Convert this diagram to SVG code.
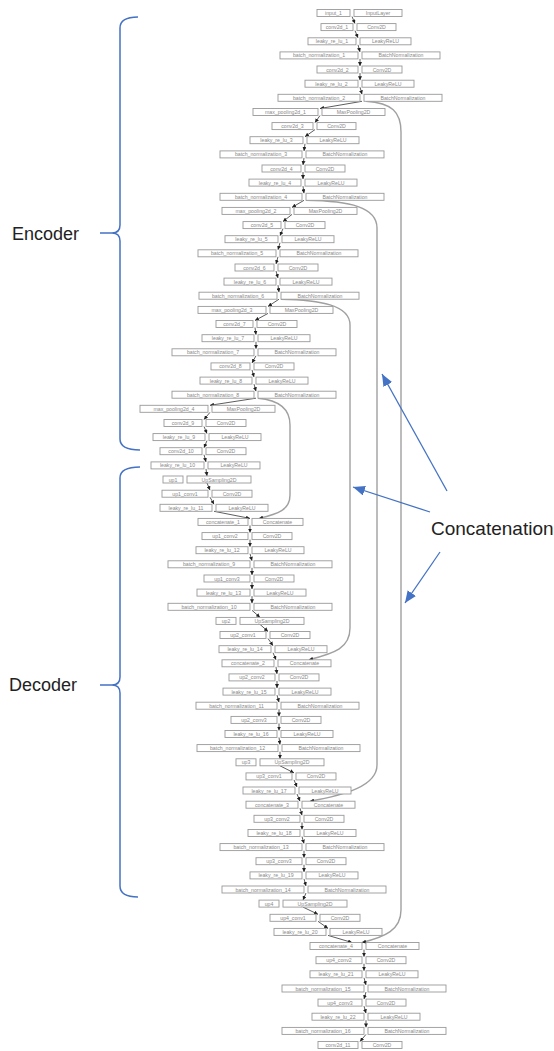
<svg xmlns="http://www.w3.org/2000/svg" width="554" height="1051" viewBox="0 0 554 1051">
<style>
.b{fill:#fff;stroke:#999;stroke-width:0.9}
.t{font-family:"Liberation Sans",Arial,sans-serif;font-size:5.2px;fill:#8a8a8a;text-anchor:middle}
.e{stroke:#333;stroke-width:0.8;fill:none;marker-end:url(#ah)}
.s{stroke:#a0a0a0;stroke-width:1.4;fill:none;marker-end:url(#ah)}
.bl{stroke:#4472C4;stroke-width:1.5;fill:none}
.ba{stroke:#4472C4;stroke-width:1.3;fill:none;marker-end:url(#ba)}
.lab{font-family:"Liberation Sans",Arial,sans-serif;fill:#222}
</style>
<defs>
<marker id="ah" markerWidth="4" markerHeight="4" refX="4" refY="2" orient="auto" markerUnits="userSpaceOnUse"><path d="M0,0L4,2L0,4z" fill="#222"/></marker>
<marker id="ba" markerWidth="12" markerHeight="10" refX="12" refY="5" orient="auto" markerUnits="userSpaceOnUse"><path d="M0,0L12,5L0,10z" fill="#4472C4"/></marker>
</defs>
<rect width="554" height="1051" fill="#fff"/>
<g id="connectors">
<line class="e" x1="352" y1="16.5" x2="355" y2="23.6"/>
<line class="e" x1="355" y1="30.6" x2="358" y2="37.8"/>
<line class="e" x1="358" y1="44.8" x2="360" y2="51.9"/>
<line class="e" x1="360" y1="58.9" x2="360" y2="66"/>
<line class="e" x1="360" y1="73" x2="360" y2="80.2"/>
<line class="e" x1="360" y1="87.2" x2="362" y2="94.3"/>
<line class="e" x1="362" y1="101.3" x2="320" y2="108.5"/>
<line class="e" x1="320" y1="115.5" x2="315" y2="122.6"/>
<line class="e" x1="315" y1="129.6" x2="305" y2="136.7"/>
<line class="e" x1="305" y1="143.7" x2="304" y2="150.9"/>
<line class="e" x1="304" y1="157.9" x2="303" y2="165"/>
<line class="e" x1="303" y1="172" x2="303" y2="179.1"/>
<line class="e" x1="303" y1="186.1" x2="304" y2="193.3"/>
<line class="e" x1="304" y1="200.3" x2="292" y2="207.4"/>
<line class="e" x1="292" y1="214.4" x2="283" y2="221.6"/>
<line class="e" x1="283" y1="228.6" x2="280" y2="235.7"/>
<line class="e" x1="280" y1="242.7" x2="278" y2="249.8"/>
<line class="e" x1="278" y1="256.8" x2="276" y2="264"/>
<line class="e" x1="276" y1="271" x2="278" y2="278.1"/>
<line class="e" x1="278" y1="285.1" x2="279" y2="292.2"/>
<line class="e" x1="279" y1="299.2" x2="268" y2="306.4"/>
<line class="e" x1="268" y1="313.4" x2="255" y2="320.5"/>
<line class="e" x1="255" y1="327.5" x2="256" y2="334.7"/>
<line class="e" x1="256" y1="341.7" x2="256" y2="348.8"/>
<line class="e" x1="256" y1="355.8" x2="252" y2="362.9"/>
<line class="e" x1="252" y1="369.9" x2="254" y2="377.1"/>
<line class="e" x1="254" y1="384.1" x2="256" y2="391.2"/>
<line class="e" x1="256" y1="398.2" x2="210" y2="405.3"/>
<line class="e" x1="210" y1="412.3" x2="204" y2="419.5"/>
<line class="e" x1="204" y1="426.5" x2="207" y2="433.6"/>
<line class="e" x1="207" y1="440.6" x2="204" y2="447.7"/>
<line class="e" x1="204" y1="454.7" x2="206" y2="461.9"/>
<line class="e" x1="206" y1="468.9" x2="207" y2="476"/>
<line class="e" x1="207" y1="483" x2="210" y2="490.2"/>
<line class="e" x1="210" y1="497.2" x2="214" y2="504.3"/>
<line class="e" x1="214" y1="511.3" x2="250" y2="518.4"/>
<line class="e" x1="250" y1="525.4" x2="250" y2="532.6"/>
<line class="e" x1="250" y1="539.6" x2="250" y2="546.7"/>
<line class="e" x1="250" y1="553.7" x2="252" y2="560.8"/>
<line class="e" x1="252" y1="567.8" x2="252" y2="575"/>
<line class="e" x1="252" y1="582" x2="252" y2="589.1"/>
<line class="e" x1="252" y1="596.1" x2="252" y2="603.3"/>
<line class="e" x1="252" y1="610.3" x2="260" y2="617.4"/>
<line class="e" x1="260" y1="624.4" x2="268" y2="631.5"/>
<line class="e" x1="268" y1="638.5" x2="273" y2="645.7"/>
<line class="e" x1="273" y1="652.7" x2="276" y2="659.8"/>
<line class="e" x1="276" y1="666.8" x2="277" y2="673.9"/>
<line class="e" x1="277" y1="680.9" x2="277" y2="688.1"/>
<line class="e" x1="277" y1="695.1" x2="279" y2="702.2"/>
<line class="e" x1="279" y1="709.2" x2="279" y2="716.4"/>
<line class="e" x1="279" y1="723.4" x2="279" y2="730.5"/>
<line class="e" x1="279" y1="737.5" x2="280" y2="744.6"/>
<line class="e" x1="280" y1="751.6" x2="280" y2="758.8"/>
<line class="e" x1="280" y1="765.8" x2="294" y2="772.9"/>
<line class="e" x1="294" y1="779.9" x2="297" y2="787"/>
<line class="e" x1="297" y1="794" x2="300" y2="801.2"/>
<line class="e" x1="300" y1="808.2" x2="302" y2="815.3"/>
<line class="e" x1="302" y1="822.3" x2="302" y2="829.5"/>
<line class="e" x1="302" y1="836.5" x2="304" y2="843.6"/>
<line class="e" x1="304" y1="850.6" x2="304" y2="857.7"/>
<line class="e" x1="304" y1="864.7" x2="304" y2="871.9"/>
<line class="e" x1="304" y1="878.9" x2="306" y2="886"/>
<line class="e" x1="306" y1="893" x2="303" y2="900.1"/>
<line class="e" x1="303" y1="907.1" x2="318" y2="914.3"/>
<line class="e" x1="318" y1="921.3" x2="328" y2="928.4"/>
<line class="e" x1="328" y1="935.4" x2="352" y2="942.5"/>
<line class="e" x1="364" y1="949.5" x2="364" y2="956.7"/>
<line class="e" x1="364" y1="963.7" x2="364" y2="970.8"/>
<line class="e" x1="364" y1="977.8" x2="366" y2="985"/>
<line class="e" x1="366" y1="992" x2="364" y2="999.1"/>
<line class="e" x1="364" y1="1006.1" x2="366" y2="1013.2"/>
<line class="e" x1="366" y1="1020.2" x2="366" y2="1027.4"/>
<line class="e" x1="366" y1="1034.4" x2="360" y2="1041.5"/>
<path class="s" d="M366 101.3 C392 103,401 112,401 132 L401 910 C401 930,385 937,362 942.5"/>
<path class="s" d="M306 200.3 C350 201,377 207,377 228 L377 765 C377 786,345 795,310 801.2"/>
<path class="s" d="M281 299.2 C320 300,350 305,350 325 L350 628 C350 648,335 653,309 659.8"/>
<path class="s" d="M258 398.2 C278 400,290 408,290 425 L290 495 C290 510,278 514,259 518.4"/>
</g>
<g id="n0" transform="translate(0,13)"><rect class="b" x="317" y="-3.5" width="33" height="7"/><text class="t" x="333.5" y="2">input_1</text><rect class="b" x="354" y="-3.5" width="48" height="7"/><text class="t" x="378" y="2">InputLayer</text></g>
<g id="n1" transform="translate(0,27.1)"><rect class="b" x="321" y="-3.5" width="32" height="7"/><text class="t" x="337" y="2">conv2d_1</text><rect class="b" x="357" y="-3.5" width="39" height="7"/><text class="t" x="376.5" y="2">Conv2D</text></g>
<g id="n2" transform="translate(0,41.3)"><rect class="b" x="308" y="-3.5" width="48" height="7"/><text class="t" x="332" y="2">leaky_re_lu_1</text><rect class="b" x="360" y="-3.5" width="51" height="7"/><text class="t" x="385.5" y="2">LeakyReLU</text></g>
<g id="n3" transform="translate(0,55.4)"><rect class="b" x="280" y="-3.5" width="78" height="7"/><text class="t" x="319" y="2">batch_normalization_1</text><rect class="b" x="362" y="-3.5" width="78" height="7"/><text class="t" x="401" y="2">BatchNormalization</text></g>
<g id="n4" transform="translate(0,69.5)"><rect class="b" x="317" y="-3.5" width="41" height="7"/><text class="t" x="337.5" y="2">conv2d_2</text><rect class="b" x="362" y="-3.5" width="40" height="7"/><text class="t" x="382" y="2">Conv2D</text></g>
<g id="n5" transform="translate(0,83.7)"><rect class="b" x="305" y="-3.5" width="53" height="7"/><text class="t" x="331.5" y="2">leaky_re_lu_2</text><rect class="b" x="362" y="-3.5" width="52" height="7"/><text class="t" x="388" y="2">LeakyReLU</text></g>
<g id="n6" transform="translate(0,97.8)"><rect class="b" x="278" y="-3.5" width="82" height="7"/><text class="t" x="319" y="2">batch_normalization_2</text><rect class="b" x="364" y="-3.5" width="78" height="7"/><text class="t" x="403" y="2">BatchNormalization</text></g>
<g id="n7" transform="translate(0,112)"><rect class="b" x="253" y="-3.5" width="65" height="7"/><text class="t" x="285.5" y="2">max_pooling2d_1</text><rect class="b" x="322" y="-3.5" width="63" height="7"/><text class="t" x="353.5" y="2">MaxPooling2D</text></g>
<g id="n8" transform="translate(0,126.1)"><rect class="b" x="272" y="-3.5" width="41" height="7"/><text class="t" x="292.5" y="2">conv2d_3</text><rect class="b" x="317" y="-3.5" width="39" height="7"/><text class="t" x="336.5" y="2">Conv2D</text></g>
<g id="n9" transform="translate(0,140.2)"><rect class="b" x="250" y="-3.5" width="53" height="7"/><text class="t" x="276.5" y="2">leaky_re_lu_3</text><rect class="b" x="307" y="-3.5" width="52" height="7"/><text class="t" x="333" y="2">LeakyReLU</text></g>
<g id="n10" transform="translate(0,154.4)"><rect class="b" x="220" y="-3.5" width="82" height="7"/><text class="t" x="261" y="2">batch_normalization_3</text><rect class="b" x="306" y="-3.5" width="78" height="7"/><text class="t" x="345" y="2">BatchNormalization</text></g>
<g id="n11" transform="translate(0,168.5)"><rect class="b" x="262" y="-3.5" width="39" height="7"/><text class="t" x="281.5" y="2">conv2d_4</text><rect class="b" x="305" y="-3.5" width="40" height="7"/><text class="t" x="325" y="2">Conv2D</text></g>
<g id="n12" transform="translate(0,182.6)"><rect class="b" x="249" y="-3.5" width="52" height="7"/><text class="t" x="275" y="2">leaky_re_lu_4</text><rect class="b" x="305" y="-3.5" width="52" height="7"/><text class="t" x="331" y="2">LeakyReLU</text></g>
<g id="n13" transform="translate(0,196.8)"><rect class="b" x="220" y="-3.5" width="82" height="7"/><text class="t" x="261" y="2">batch_normalization_4</text><rect class="b" x="306" y="-3.5" width="78" height="7"/><text class="t" x="345" y="2">BatchNormalization</text></g>
<g id="n14" transform="translate(0,210.9)"><rect class="b" x="222" y="-3.5" width="68" height="7"/><text class="t" x="256" y="2">max_pooling2d_2</text><rect class="b" x="294" y="-3.5" width="63" height="7"/><text class="t" x="325.5" y="2">MaxPooling2D</text></g>
<g id="n15" transform="translate(0,225.1)"><rect class="b" x="243" y="-3.5" width="38" height="7"/><text class="t" x="262" y="2">conv2d_5</text><rect class="b" x="285" y="-3.5" width="40" height="7"/><text class="t" x="305" y="2">Conv2D</text></g>
<g id="n16" transform="translate(0,239.2)"><rect class="b" x="225" y="-3.5" width="53" height="7"/><text class="t" x="251.5" y="2">leaky_re_lu_5</text><rect class="b" x="282" y="-3.5" width="52" height="7"/><text class="t" x="308" y="2">LeakyReLU</text></g>
<g id="n17" transform="translate(0,253.3)"><rect class="b" x="198" y="-3.5" width="78" height="7"/><text class="t" x="237" y="2">batch_normalization_5</text><rect class="b" x="280" y="-3.5" width="78" height="7"/><text class="t" x="319" y="2">BatchNormalization</text></g>
<g id="n18" transform="translate(0,267.5)"><rect class="b" x="235" y="-3.5" width="39" height="7"/><text class="t" x="254.5" y="2">conv2d_6</text><rect class="b" x="278" y="-3.5" width="40" height="7"/><text class="t" x="298" y="2">Conv2D</text></g>
<g id="n19" transform="translate(0,281.6)"><rect class="b" x="224" y="-3.5" width="52" height="7"/><text class="t" x="250" y="2">leaky_re_lu_6</text><rect class="b" x="280" y="-3.5" width="52" height="7"/><text class="t" x="306" y="2">LeakyReLU</text></g>
<g id="n20" transform="translate(0,295.7)"><rect class="b" x="199" y="-3.5" width="78" height="7"/><text class="t" x="238" y="2">batch_normalization_6</text><rect class="b" x="281" y="-3.5" width="78" height="7"/><text class="t" x="320" y="2">BatchNormalization</text></g>
<g id="n21" transform="translate(0,309.9)"><rect class="b" x="198" y="-3.5" width="68" height="7"/><text class="t" x="232" y="2">max_pooling2d_3</text><rect class="b" x="270" y="-3.5" width="63" height="7"/><text class="t" x="301.5" y="2">MaxPooling2D</text></g>
<g id="n22" transform="translate(0,324)"><rect class="b" x="216" y="-3.5" width="37" height="7"/><text class="t" x="234.5" y="2">conv2d_7</text><rect class="b" x="257" y="-3.5" width="40" height="7"/><text class="t" x="277" y="2">Conv2D</text></g>
<g id="n23" transform="translate(0,338.2)"><rect class="b" x="202" y="-3.5" width="52" height="7"/><text class="t" x="228" y="2">leaky_re_lu_7</text><rect class="b" x="258" y="-3.5" width="52" height="7"/><text class="t" x="284" y="2">LeakyReLU</text></g>
<g id="n24" transform="translate(0,352.3)"><rect class="b" x="172" y="-3.5" width="82" height="7"/><text class="t" x="213" y="2">batch_normalization_7</text><rect class="b" x="258" y="-3.5" width="78" height="7"/><text class="t" x="297" y="2">BatchNormalization</text></g>
<g id="n25" transform="translate(0,366.4)"><rect class="b" x="211" y="-3.5" width="39" height="7"/><text class="t" x="230.5" y="2">conv2d_8</text><rect class="b" x="254" y="-3.5" width="40" height="7"/><text class="t" x="274" y="2">Conv2D</text></g>
<g id="n26" transform="translate(0,380.6)"><rect class="b" x="200" y="-3.5" width="52" height="7"/><text class="t" x="226" y="2">leaky_re_lu_8</text><rect class="b" x="256" y="-3.5" width="52" height="7"/><text class="t" x="282" y="2">LeakyReLU</text></g>
<g id="n27" transform="translate(0,394.7)"><rect class="b" x="172" y="-3.5" width="82" height="7"/><text class="t" x="213" y="2">batch_normalization_8</text><rect class="b" x="258" y="-3.5" width="78" height="7"/><text class="t" x="297" y="2">BatchNormalization</text></g>
<g id="n28" transform="translate(0,408.8)"><rect class="b" x="140" y="-3.5" width="68" height="7"/><text class="t" x="174" y="2">max_pooling2d_4</text><rect class="b" x="212" y="-3.5" width="63" height="7"/><text class="t" x="243.5" y="2">MaxPooling2D</text></g>
<g id="n29" transform="translate(0,423)"><rect class="b" x="164" y="-3.5" width="38" height="7"/><text class="t" x="183" y="2">conv2d_9</text><rect class="b" x="206" y="-3.5" width="40" height="7"/><text class="t" x="226" y="2">Conv2D</text></g>
<g id="n30" transform="translate(0,437.1)"><rect class="b" x="153" y="-3.5" width="52" height="7"/><text class="t" x="179" y="2">leaky_re_lu_9</text><rect class="b" x="209" y="-3.5" width="52" height="7"/><text class="t" x="235" y="2">LeakyReLU</text></g>
<g id="n31" transform="translate(0,451.2)"><rect class="b" x="160" y="-3.5" width="42" height="7"/><text class="t" x="181" y="2">conv2d_10</text><rect class="b" x="206" y="-3.5" width="40" height="7"/><text class="t" x="226" y="2">Conv2D</text></g>
<g id="n32" transform="translate(0,465.4)"><rect class="b" x="151" y="-3.5" width="53" height="7"/><text class="t" x="177.5" y="2">leaky_re_lu_10</text><rect class="b" x="208" y="-3.5" width="52" height="7"/><text class="t" x="234" y="2">LeakyReLU</text></g>
<g id="n33" transform="translate(0,479.5)"><rect class="b" x="163" y="-3.5" width="20" height="7"/><text class="t" x="173" y="2">up1</text><rect class="b" x="187" y="-3.5" width="64" height="7"/><text class="t" x="219" y="2">UpSampling2D</text></g>
<g id="n34" transform="translate(0,493.7)"><rect class="b" x="162" y="-3.5" width="46" height="7"/><text class="t" x="185" y="2">up1_conv1</text><rect class="b" x="212" y="-3.5" width="40" height="7"/><text class="t" x="232" y="2">Conv2D</text></g>
<g id="n35" transform="translate(0,507.8)"><rect class="b" x="160" y="-3.5" width="52" height="7"/><text class="t" x="186" y="2">leaky_re_lu_11</text><rect class="b" x="216" y="-3.5" width="52" height="7"/><text class="t" x="242" y="2">LeakyReLU</text></g>
<g id="n36" transform="translate(0,521.9)"><rect class="b" x="198" y="-3.5" width="50" height="7"/><text class="t" x="223" y="2">concatenate_1</text><rect class="b" x="252" y="-3.5" width="51" height="7"/><text class="t" x="277.5" y="2">Concatenate</text></g>
<g id="n37" transform="translate(0,536.1)"><rect class="b" x="202" y="-3.5" width="46" height="7"/><text class="t" x="225" y="2">up1_conv2</text><rect class="b" x="252" y="-3.5" width="40" height="7"/><text class="t" x="272" y="2">Conv2D</text></g>
<g id="n38" transform="translate(0,550.2)"><rect class="b" x="196" y="-3.5" width="52" height="7"/><text class="t" x="222" y="2">leaky_re_lu_12</text><rect class="b" x="252" y="-3.5" width="52" height="7"/><text class="t" x="278" y="2">LeakyReLU</text></g>
<g id="n39" transform="translate(0,564.3)"><rect class="b" x="168" y="-3.5" width="82" height="7"/><text class="t" x="209" y="2">batch_normalization_9</text><rect class="b" x="254" y="-3.5" width="78" height="7"/><text class="t" x="293" y="2">BatchNormalization</text></g>
<g id="n40" transform="translate(0,578.5)"><rect class="b" x="204" y="-3.5" width="46" height="7"/><text class="t" x="227" y="2">up1_conv3</text><rect class="b" x="254" y="-3.5" width="40" height="7"/><text class="t" x="274" y="2">Conv2D</text></g>
<g id="n41" transform="translate(0,592.6)"><rect class="b" x="197" y="-3.5" width="53" height="7"/><text class="t" x="223.5" y="2">leaky_re_lu_13</text><rect class="b" x="254" y="-3.5" width="52" height="7"/><text class="t" x="280" y="2">LeakyReLU</text></g>
<g id="n42" transform="translate(0,606.8)"><rect class="b" x="168" y="-3.5" width="82" height="7"/><text class="t" x="209" y="2">batch_normalization_10</text><rect class="b" x="254" y="-3.5" width="78" height="7"/><text class="t" x="293" y="2">BatchNormalization</text></g>
<g id="n43" transform="translate(0,620.9)"><rect class="b" x="216" y="-3.5" width="20" height="7"/><text class="t" x="226" y="2">up2</text><rect class="b" x="240" y="-3.5" width="64" height="7"/><text class="t" x="272" y="2">UpSampling2D</text></g>
<g id="n44" transform="translate(0,635)"><rect class="b" x="220" y="-3.5" width="46" height="7"/><text class="t" x="243" y="2">up2_conv1</text><rect class="b" x="270" y="-3.5" width="40" height="7"/><text class="t" x="290" y="2">Conv2D</text></g>
<g id="n45" transform="translate(0,649.2)"><rect class="b" x="219" y="-3.5" width="52" height="7"/><text class="t" x="245" y="2">leaky_re_lu_14</text><rect class="b" x="275" y="-3.5" width="52" height="7"/><text class="t" x="301" y="2">LeakyReLU</text></g>
<g id="n46" transform="translate(0,663.3)"><rect class="b" x="222" y="-3.5" width="52" height="7"/><text class="t" x="248" y="2">concatenate_2</text><rect class="b" x="278" y="-3.5" width="53" height="7"/><text class="t" x="304.5" y="2">Concatenate</text></g>
<g id="n47" transform="translate(0,677.4)"><rect class="b" x="229" y="-3.5" width="46" height="7"/><text class="t" x="252" y="2">up2_conv2</text><rect class="b" x="279" y="-3.5" width="40" height="7"/><text class="t" x="299" y="2">Conv2D</text></g>
<g id="n48" transform="translate(0,691.6)"><rect class="b" x="223" y="-3.5" width="52" height="7"/><text class="t" x="249" y="2">leaky_re_lu_15</text><rect class="b" x="279" y="-3.5" width="52" height="7"/><text class="t" x="305" y="2">LeakyReLU</text></g>
<g id="n49" transform="translate(0,705.7)"><rect class="b" x="196" y="-3.5" width="81" height="7"/><text class="t" x="236.5" y="2">batch_normalization_11</text><rect class="b" x="281" y="-3.5" width="78" height="7"/><text class="t" x="320" y="2">BatchNormalization</text></g>
<g id="n50" transform="translate(0,719.9)"><rect class="b" x="231" y="-3.5" width="46" height="7"/><text class="t" x="254" y="2">up2_conv3</text><rect class="b" x="281" y="-3.5" width="40" height="7"/><text class="t" x="301" y="2">Conv2D</text></g>
<g id="n51" transform="translate(0,734)"><rect class="b" x="225" y="-3.5" width="52" height="7"/><text class="t" x="251" y="2">leaky_re_lu_16</text><rect class="b" x="281" y="-3.5" width="52" height="7"/><text class="t" x="307" y="2">LeakyReLU</text></g>
<g id="n52" transform="translate(0,748.1)"><rect class="b" x="197" y="-3.5" width="81" height="7"/><text class="t" x="237.5" y="2">batch_normalization_12</text><rect class="b" x="282" y="-3.5" width="78" height="7"/><text class="t" x="321" y="2">BatchNormalization</text></g>
<g id="n53" transform="translate(0,762.3)"><rect class="b" x="236" y="-3.5" width="20" height="7"/><text class="t" x="246" y="2">up3</text><rect class="b" x="260" y="-3.5" width="64" height="7"/><text class="t" x="292" y="2">UpSampling2D</text></g>
<g id="n54" transform="translate(0,776.4)"><rect class="b" x="246" y="-3.5" width="46" height="7"/><text class="t" x="269" y="2">up3_conv1</text><rect class="b" x="296" y="-3.5" width="40" height="7"/><text class="t" x="316" y="2">Conv2D</text></g>
<g id="n55" transform="translate(0,790.5)"><rect class="b" x="243" y="-3.5" width="52" height="7"/><text class="t" x="269" y="2">leaky_re_lu_17</text><rect class="b" x="299" y="-3.5" width="52" height="7"/><text class="t" x="325" y="2">LeakyReLU</text></g>
<g id="n56" transform="translate(0,804.7)"><rect class="b" x="246" y="-3.5" width="52" height="7"/><text class="t" x="272" y="2">concatenate_3</text><rect class="b" x="302" y="-3.5" width="53" height="7"/><text class="t" x="328.5" y="2">Concatenate</text></g>
<g id="n57" transform="translate(0,818.8)"><rect class="b" x="254" y="-3.5" width="46" height="7"/><text class="t" x="277" y="2">up3_conv2</text><rect class="b" x="304" y="-3.5" width="40" height="7"/><text class="t" x="324" y="2">Conv2D</text></g>
<g id="n58" transform="translate(0,833)"><rect class="b" x="248" y="-3.5" width="52" height="7"/><text class="t" x="274" y="2">leaky_re_lu_18</text><rect class="b" x="304" y="-3.5" width="52" height="7"/><text class="t" x="330" y="2">LeakyReLU</text></g>
<g id="n59" transform="translate(0,847.1)"><rect class="b" x="220" y="-3.5" width="82" height="7"/><text class="t" x="261" y="2">batch_normalization_13</text><rect class="b" x="306" y="-3.5" width="78" height="7"/><text class="t" x="345" y="2">BatchNormalization</text></g>
<g id="n60" transform="translate(0,861.2)"><rect class="b" x="256" y="-3.5" width="46" height="7"/><text class="t" x="279" y="2">up3_conv3</text><rect class="b" x="306" y="-3.5" width="40" height="7"/><text class="t" x="326" y="2">Conv2D</text></g>
<g id="n61" transform="translate(0,875.4)"><rect class="b" x="250" y="-3.5" width="52" height="7"/><text class="t" x="276" y="2">leaky_re_lu_19</text><rect class="b" x="306" y="-3.5" width="52" height="7"/><text class="t" x="332" y="2">LeakyReLU</text></g>
<g id="n62" transform="translate(0,889.5)"><rect class="b" x="222" y="-3.5" width="82" height="7"/><text class="t" x="263" y="2">batch_normalization_14</text><rect class="b" x="308" y="-3.5" width="78" height="7"/><text class="t" x="347" y="2">BatchNormalization</text></g>
<g id="n63" transform="translate(0,903.6)"><rect class="b" x="259" y="-3.5" width="20" height="7"/><text class="t" x="269" y="2">up4</text><rect class="b" x="283" y="-3.5" width="64" height="7"/><text class="t" x="315" y="2">UpSampling2D</text></g>
<g id="n64" transform="translate(0,917.8)"><rect class="b" x="270" y="-3.5" width="46" height="7"/><text class="t" x="293" y="2">up4_conv1</text><rect class="b" x="320" y="-3.5" width="40" height="7"/><text class="t" x="340" y="2">Conv2D</text></g>
<g id="n65" transform="translate(0,931.9)"><rect class="b" x="274" y="-3.5" width="52" height="7"/><text class="t" x="300" y="2">leaky_re_lu_20</text><rect class="b" x="330" y="-3.5" width="52" height="7"/><text class="t" x="356" y="2">LeakyReLU</text></g>
<g id="n66" transform="translate(0,946)"><rect class="b" x="310" y="-3.5" width="52" height="7"/><text class="t" x="336" y="2">concatenate_4</text><rect class="b" x="366" y="-3.5" width="53" height="7"/><text class="t" x="392.5" y="2">Concatenate</text></g>
<g id="n67" transform="translate(0,960.2)"><rect class="b" x="316" y="-3.5" width="46" height="7"/><text class="t" x="339" y="2">up4_conv2</text><rect class="b" x="366" y="-3.5" width="40" height="7"/><text class="t" x="386" y="2">Conv2D</text></g>
<g id="n68" transform="translate(0,974.3)"><rect class="b" x="310" y="-3.5" width="52" height="7"/><text class="t" x="336" y="2">leaky_re_lu_21</text><rect class="b" x="366" y="-3.5" width="52" height="7"/><text class="t" x="392" y="2">LeakyReLU</text></g>
<g id="n69" transform="translate(0,988.5)"><rect class="b" x="282" y="-3.5" width="82" height="7"/><text class="t" x="323" y="2">batch_normalization_15</text><rect class="b" x="368" y="-3.5" width="78" height="7"/><text class="t" x="407" y="2">BatchNormalization</text></g>
<g id="n70" transform="translate(0,1002.6)"><rect class="b" x="318" y="-3.5" width="44" height="7"/><text class="t" x="340" y="2">up4_conv3</text><rect class="b" x="366" y="-3.5" width="40" height="7"/><text class="t" x="386" y="2">Conv2D</text></g>
<g id="n71" transform="translate(0,1016.7)"><rect class="b" x="312" y="-3.5" width="52" height="7"/><text class="t" x="338" y="2">leaky_re_lu_22</text><rect class="b" x="368" y="-3.5" width="52" height="7"/><text class="t" x="394" y="2">LeakyReLU</text></g>
<g id="n72" transform="translate(0,1030.9)"><rect class="b" x="282" y="-3.5" width="82" height="7"/><text class="t" x="323" y="2">batch_normalization_16</text><rect class="b" x="368" y="-3.5" width="78" height="7"/><text class="t" x="407" y="2">BatchNormalization</text></g>
<g id="n73" transform="translate(0,1045)"><rect class="b" x="318" y="-3.5" width="40" height="7"/><text class="t" x="338" y="2">conv2d_11</text><rect class="b" x="362" y="-3.5" width="40" height="7"/><text class="t" x="382" y="2">Conv2D</text></g>
<g id="encoder-label">
<path class="bl" d="M138 17 Q120 17 120 28 L120 225 Q120 233 112 233 L100 233 M112 233 Q120 233 120 241 L120 439 Q120 450 140 450"/>
<text class="lab" x="12" y="240" font-size="18">Encoder</text>
</g>
<g id="decoder-label">
<path class="bl" d="M140 467 Q120 467 120 478 L120 677 Q120 685 112 685 L100 685 M112 685 Q120 685 120 693 L120 886 Q120 897 138 897"/>
<text class="lab" x="9" y="691" font-size="18">Decoder</text>
</g>
<g id="concatenation-label">
<text class="lab" x="431" y="535" font-size="19">Concatenation</text>
<line class="ba" x1="447" y1="491" x2="382" y2="374"/>
<line class="ba" x1="430" y1="512" x2="353" y2="487"/>
<line class="ba" x1="440" y1="552" x2="405" y2="603"/>
</g>
</svg>
